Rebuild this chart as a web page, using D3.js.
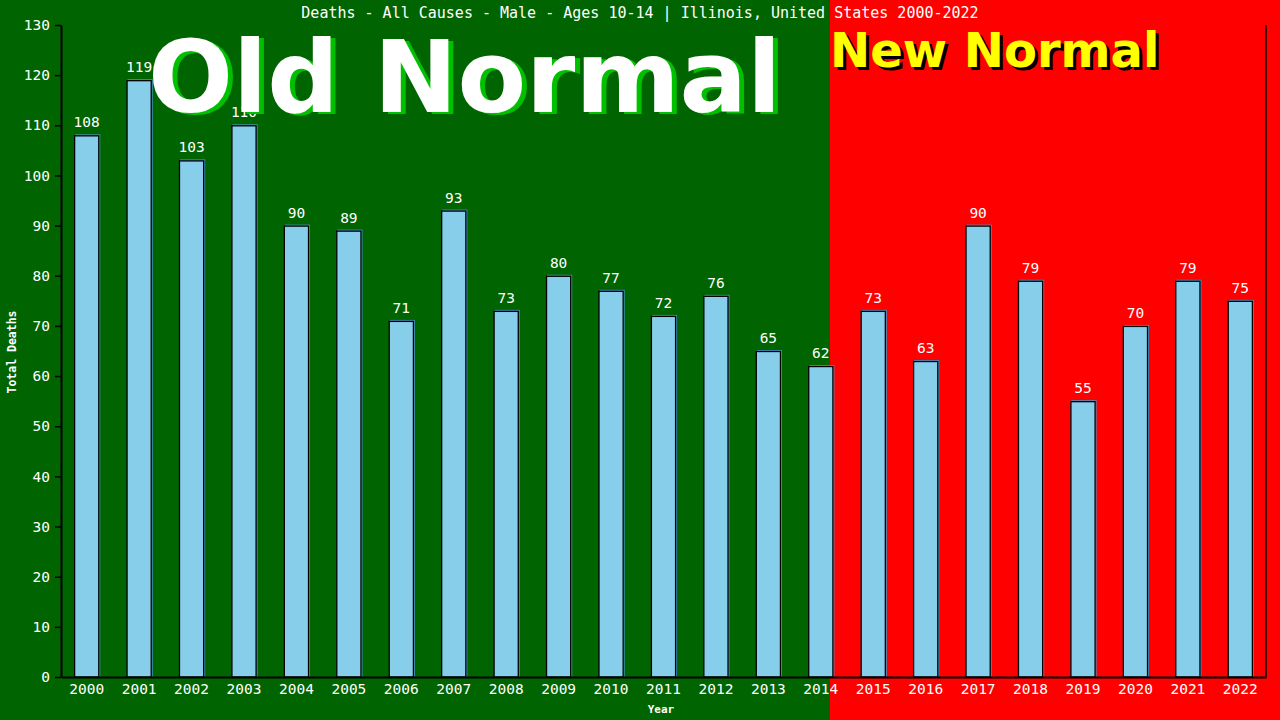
<!DOCTYPE html>
<html><head><meta charset="utf-8">
<script src="https://cdn.jsdelivr.net/npm/d3@7"></script>
<style>html,body{margin:0;padding:0;background:#006400;}svg{display:block;}</style>
</head><body>
<svg id="c" width="1280" height="720"></svg>
<script>
const years = ["2000","2001","2002","2003","2004","2005","2006","2007","2008","2009","2010","2011","2012","2013","2014","2015","2016","2017","2018","2019","2020","2021","2022"];
const deaths = [108,119,103,110,90,89,71,93,73,80,77,72,76,65,62,73,63,90,79,55,70,79,75];
const yTicks = [0,10,20,30,40,50,60,70,80,90,100,110,120,130];
const titleText = "Deaths - All Causes - Male - Ages 10-14 | Illinois, United States 2000-2022";
const data = years.map((y,i)=>({year:y, value:deaths[i]}));

(function(){
const svg = d3.select("#c");
const W = 1280, H = 720;
const pL = 61, pR = 1266, pT = 25, pB = 677;
const splitX = 830;
const mono = "'DejaVu Sans Mono', monospace";

svg.append("rect").attr("x",0).attr("y",0).attr("width",splitX).attr("height",H).attr("fill","#006400");
svg.append("rect").attr("x",splitX).attr("y",0).attr("width",W-splitX).attr("height",H).attr("fill","#ff0000");

const x = d3.scaleBand().domain(years).range([pL,pR]).paddingInner(0.52).paddingOuter(0.25);
const y = d3.scaleLinear().domain([0,130]).range([pB,pT]);

const g = svg.append("g");
g.selectAll("rect.sh").data(data).enter().append("rect")
  .attr("x",d=>x(d.year)+1).attr("y",d=>y(d.value)-1)
  .attr("width",x.bandwidth()).attr("height",d=>pB-y(d.value)+1)
  .attr("fill","#4a8fc0");
g.selectAll("rect.b").data(data).enter().append("rect")
  .attr("x",d=>x(d.year)+0.5).attr("y",d=>y(d.value)+0.5)
  .attr("width",x.bandwidth()-1).attr("height",d=>pB-y(d.value)-0.5)
  .attr("fill","#87ceeb").attr("stroke","#000").attr("stroke-width",1.3);

g.selectAll("text.v").data(data).enter().append("text")
  .attr("x",d=>x(d.year)+x.bandwidth()/2).attr("y",d=>y(d.value)-8)
  .attr("text-anchor","middle").attr("font-family",mono).attr("font-size",14.5)
  .attr("fill","#fff").text(d=>d.value);

function bigText(txt, xx, yy, size, fill, shadow, dx, dy){
  svg.append("text").attr("x",xx+dx).attr("y",yy+dy).attr("font-family","'DejaVu Sans', sans-serif")
    .attr("font-weight","bold").attr("font-size",size).attr("fill",shadow).text(txt);
  svg.append("text").attr("x",xx).attr("y",yy).attr("font-family","'DejaVu Sans', sans-serif")
    .attr("font-weight","bold").attr("font-size",size).attr("fill",fill).text(txt);
}
bigText("Old Normal", 148, 112, 100, "#ffffff", "#00c000", 5, 2);
bigText("New Normal", 830, 67, 48, "#ffff00", "#000000", 3, 3);

const yAxis = d3.axisLeft(y).tickValues(yTicks).tickSize(6).tickSizeOuter(0);
const ya = svg.append("g").attr("transform",`translate(${pL},0)`).call(yAxis);
ya.select(".domain").attr("stroke","#000").attr("stroke-width",2);
ya.selectAll(".tick line").attr("stroke","#000").attr("stroke-width",1.5);
ya.selectAll(".tick text").attr("fill","#fff").attr("font-family",mono).attr("font-size",14.5).attr("x",-11);

const xAxis = d3.axisBottom(x).tickSize(0).tickSizeOuter(0);
const xa = svg.append("g").attr("transform",`translate(0,${pB})`).call(xAxis);
xa.select(".domain").attr("stroke","#000").attr("stroke-width",2);
xa.selectAll(".tick text").attr("fill","#fff").attr("font-family",mono).attr("font-size",14.5).attr("dy","0.71em").attr("y",7);

svg.append("line").attr("x1",pR).attr("x2",pR).attr("y1",pT).attr("y2",pB).attr("stroke","#000").attr("stroke-width",1.5);

svg.append("text").attr("x",640).attr("y",18).attr("text-anchor","middle").attr("font-family",mono)
  .attr("font-size",15).attr("fill","#fff").text(titleText);
svg.append("text").attr("x",661).attr("y",713).attr("text-anchor","middle").attr("font-family",mono)
  .attr("font-size",11).attr("font-weight","bold").attr("fill","#fff").text("Year");
svg.append("text").attr("transform","translate(16,352) rotate(-90)").attr("text-anchor","middle").attr("font-family",mono)
  .attr("font-size",11.5).attr("font-weight","bold").attr("fill","#fff").text("Total Deaths");
})();
</script>
</body></html>
